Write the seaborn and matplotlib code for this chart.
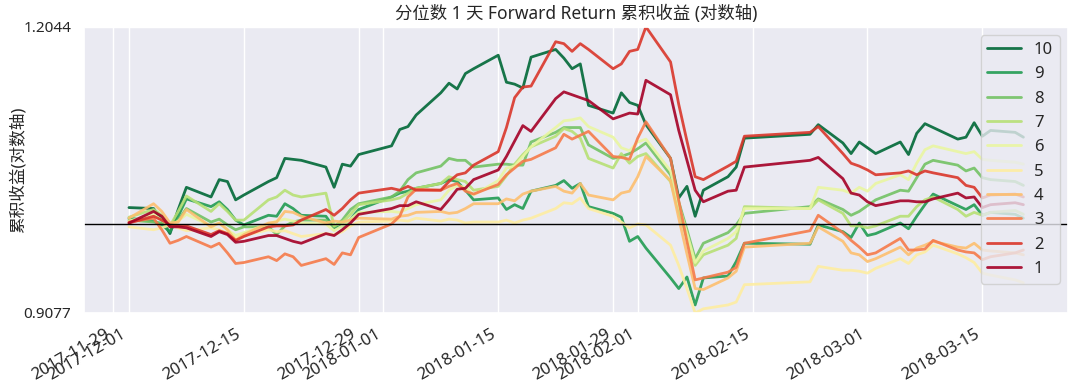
import numpy as np
import pandas as pd
import matplotlib
matplotlib.use("Agg")
import matplotlib.pyplot as plt
import matplotlib.dates as mdates
from matplotlib.ticker import FuncFormatter
import seaborn as sns

# ---------------- data ----------------
dates = [
    "2017-12-01", "2017-12-04", "2017-12-05", "2017-12-06", "2017-12-07", "2017-12-08",
    "2017-12-11", "2017-12-12", "2017-12-13", "2017-12-14", "2017-12-15",
    "2017-12-18", "2017-12-19", "2017-12-20", "2017-12-21", "2017-12-22",
    "2017-12-25", "2017-12-26", "2017-12-27", "2017-12-28", "2017-12-29",
    "2018-01-02", "2018-01-03", "2018-01-04", "2018-01-05",
    "2018-01-08", "2018-01-09", "2018-01-10", "2018-01-11", "2018-01-12",
    "2018-01-15", "2018-01-16", "2018-01-17", "2018-01-18", "2018-01-19",
    "2018-01-22", "2018-01-23", "2018-01-24", "2018-01-25", "2018-01-26",
    "2018-01-29", "2018-01-30", "2018-01-31", "2018-02-01", "2018-02-02",
    "2018-02-05", "2018-02-06", "2018-02-07", "2018-02-08", "2018-02-09",
    "2018-02-12", "2018-02-13", "2018-02-14", "2018-02-22", "2018-02-23",
    "2018-02-26", "2018-02-27", "2018-02-28", "2018-03-01", "2018-03-02",
    "2018-03-05", "2018-03-06", "2018-03-07", "2018-03-08", "2018-03-09",
    "2018-03-12", "2018-03-13", "2018-03-14", "2018-03-15", "2018-03-16",
    "2018-03-19", "2018-03-20",
]

q10 = [1.017, 1.016, 1.004, 0.990, 1.015, 1.038, 1.028, 1.046, 1.044, 1.025, 1.030,
       1.044, 1.048, 1.068, 1.067, 1.066, 1.059, 1.038, 1.062, 1.060, 1.072,
       1.081, 1.098, 1.101, 1.113, 1.136, 1.146, 1.140, 1.156, 1.161, 1.175,
       1.147, 1.145, 1.141, 1.173, 1.181, 1.172, 1.161, 1.166, 1.123, 1.115, 1.136, 1.126,
       1.123, 1.103, 1.068, 1.027, 1.039, 1.008, 1.035, 1.049, 1.059, 1.089,
       1.093, 1.103, 1.084, 1.073, 1.085,
       1.079, 1.073, 1.085, 1.072, 1.094, 1.104, 1.100, 1.088, 1.090, 1.105, 1.091,
       1.097, 1.095, 1.090]
q9 = [1.006, 1.003, 0.999, 0.992, 1.008, 1.026, 1.018, 1.023, 1.015, 1.004, 0.999,
      1.009, 1.008, 1.021, 1.016, 1.009, 1.008, 0.996, 0.998, 1.005, 1.015,
      1.028, 1.032, 1.034, 1.037, 1.042, 1.046, 1.044, 1.035, 1.025, 1.027,
      1.015, 1.020, 1.016, 1.034, 1.040, 1.045, 1.037, 1.042, 1.018, 1.011, 1.007, 0.982,
      0.987, 0.975, 0.944, 0.933, 0.945, 0.916, 0.944, 0.946, 0.961, 0.980,
      0.979, 0.999, 0.992, 0.986, 1.001,
      0.988, 0.990, 1.001, 0.995, 1.008, 1.020, 1.031, 1.019, 1.015, 1.020, 1.009,
      1.012, 1.010, 1.006]
q8 = [1.004, 1.002, 1.001, 0.997, 1.004, 1.016, 1.002, 1.005, 0.999, 0.994, 0.997,
      0.997, 0.989, 0.998, 1.002, 1.004, 1.004, 0.997, 1.004, 1.015, 1.021,
      1.028, 1.034, 1.046, 1.053, 1.060, 1.068, 1.066, 1.066, 1.059, 1.062,
      1.062, 1.061, 1.061, 1.085, 1.095, 1.100, 1.100, 1.100, 1.082, 1.068, 1.070, 1.073,
      1.078, 1.084, 1.051, 1.023, 0.994, 0.964, 0.980, 0.991, 0.999, 1.011,
      1.018, 1.026, 1.015, 1.009, 1.013,
      1.019, 1.025, 1.035, 1.034, 1.048, 1.062, 1.066, 1.061, 1.055, 1.058, 1.048,
      1.046, 1.044, 1.040]
q7 = [1.007, 1.015, 1.009, 0.998, 1.013, 1.029, 1.013, 1.021, 1.013, 1.004, 1.004,
      1.025, 1.028, 1.035, 1.030, 1.028, 1.032, 0.998, 1.002, 1.010, 1.020,
      1.025, 1.027, 1.032, 1.037, 1.042, 1.049, 1.046, 1.044, 1.035, 1.039,
      1.050, 1.062, 1.072, 1.080, 1.091, 1.099, 1.096, 1.089, 1.068, 1.058, 1.073, 1.063,
      1.070, 1.073, 1.044, 1.013, 0.985, 0.957, 0.968, 0.978, 0.985, 1.018,
      1.016, 1.025, 1.011, 0.998, 0.998,
      0.996, 0.998, 1.008, 1.008, 1.018, 1.025, 1.028, 1.015, 1.008, 1.012, 1.009,
      1.012, 1.014, 1.010]
q6 = [1.003, 1.010, 1.004, 0.997, 1.003, 1.010, 0.998, 1.001, 0.994, 0.988, 0.991,
      1.000, 1.003, 1.005, 1.003, 1.001, 1.000, 0.993, 0.998, 1.005, 1.012,
      1.013, 1.012, 1.016, 1.020, 1.025, 1.035, 1.040, 1.038, 1.030, 1.045,
      1.058, 1.060, 1.070, 1.080, 1.100, 1.107, 1.108, 1.110, 1.101, 1.090, 1.079, 1.076,
      1.085, 1.088, 1.055, 1.020, 0.990, 0.960, 0.972, 0.985, 0.992, 1.016,
      1.016, 1.038, 1.035, 1.032, 1.038,
      1.034, 1.042, 1.051, 1.046, 1.063, 1.077, 1.081, 1.075, 1.073, 1.075, 1.067,
      1.066, 1.064, 1.062]
q5 = [0.997, 0.994, 0.996, 0.999, 0.996, 0.993, 0.996, 0.994, 0.990, 0.985, 0.988,
      0.994, 0.992, 0.993, 0.990, 0.987, 0.990, 0.989, 0.992, 0.998, 1.002,
      1.003, 1.004, 1.003, 1.006, 1.003, 1.005, 1.004, 1.001, 1.002, 1.002,
      1.004, 1.001, 1.004, 1.006, 1.016, 1.022, 1.021, 1.027, 1.016, 1.008, 1.002, 0.996,
      1.000, 0.999, 0.978, 0.957, 0.933, 0.9077, 0.912, 0.916, 0.919, 0.937,
      0.940, 0.956, 0.952, 0.952, 0.951,
      0.949, 0.954, 0.964, 0.959, 0.968, 0.971, 0.978, 0.969, 0.965, 0.960, 0.949,
      0.947, 0.942, 0.939]
q4 = [1.006, 1.021, 1.013, 1.001, 1.002, 1.015, 0.997, 1.001, 0.994, 0.983, 0.989,
      1.001, 1.002, 1.013, 1.012, 1.008, 1.001, 1.003, 1.002, 1.004, 1.006,
      1.005, 1.008, 1.009, 1.012, 1.013, 1.011, 1.012, 1.016, 1.021, 1.021,
      1.026, 1.024, 1.031, 1.034, 1.039, 1.034, 1.032, 1.042, 1.030, 1.025, 1.032, 1.034,
      1.049, 1.070, 1.045, 1.006, 0.969, 0.933, 0.932, 0.944, 0.951, 0.976,
      0.980, 0.997, 0.982, 0.970, 0.968,
      0.961, 0.964, 0.976, 0.968, 0.975, 0.978, 0.982, 0.976, 0.975, 0.980, 0.973,
      0.972, 0.970, 0.968]
q3 = [1.002, 1.006, 0.994, 0.980, 0.983, 0.987, 0.976, 0.980, 0.970, 0.959, 0.960,
      0.966, 0.962, 0.969, 0.966, 0.957, 0.964, 0.958, 0.970, 0.968, 0.986,
      1.000, 1.008, 1.028, 1.036, 1.035, 1.039, 1.042, 1.034, 1.031, 1.041,
      1.051, 1.058, 1.065, 1.067, 1.079, 1.093, 1.088, 1.092, 1.096, 1.070, 1.069, 1.067,
      1.089, 1.106, 1.068, 1.024, 0.982, 0.942, 0.944, 0.950, 0.955, 0.980,
      0.993, 1.009, 0.991, 0.983, 0.976,
      0.968, 0.970, 0.985, 0.973, 0.973, 0.974, 0.983, 0.973, 0.971, 0.970, 0.963,
      0.966, 0.970, 0.973]
q2 = [1.001, 1.008, 1.004, 0.999, 0.998, 0.998, 0.989, 0.993, 0.990, 0.983, 0.987,
      0.997, 0.998, 0.998, 0.999, 1.004, 1.015, 1.009, 1.016, 1.025, 1.032,
      1.037, 1.035, 1.039, 1.035, 1.035, 1.044, 1.051, 1.053, 1.061, 1.075,
      1.100, 1.131, 1.142, 1.143, 1.189, 1.187, 1.179, 1.187, 1.181, 1.161, 1.166, 1.179,
      1.181, 1.2044, 1.168, 1.124, 1.086, 1.049, 1.046, 1.060, 1.065, 1.091,
      1.095, 1.101, 1.073, 1.063, 1.060,
      1.056, 1.051, 1.053, 1.055, 1.051, 1.055, 1.053, 1.048, 1.040, 1.038, 1.027,
      1.030, 1.031, 1.028]
q1 = [1.001, 1.013, 1.008, 0.997, 0.997, 0.996, 0.987, 0.992, 0.989, 0.981, 0.982,
      0.988, 0.988, 0.985, 0.982, 0.980, 0.990, 0.988, 0.994, 1.001, 1.010,
      1.016, 1.019, 1.019, 1.023, 1.015, 1.025, 1.036, 1.037, 1.046, 1.056,
      1.070, 1.086, 1.102, 1.096, 1.130, 1.137, 1.134, 1.131, 1.128, 1.109, 1.112, 1.115,
      1.114, 1.149, 1.134, 1.097, 1.066, 1.035, 1.023, 1.034, 1.035, 1.059,
      1.066, 1.069, 1.047, 1.032, 1.030,
      1.023, 1.019, 1.024, 1.024, 1.023, 1.023, 1.026, 1.032, 1.027, 1.028, 1.017,
      1.020, 1.022, 1.020]

quantile_labels = ["10", "9", "8", "7", "6", "5", "4", "3", "2", "1"]
tick_dates = ["2017-11-29", "2017-12-01", "2017-12-15", "2017-12-29", "2018-01-01",
              "2018-01-15", "2018-01-29", "2018-02-01", "2018-02-15", "2018-03-01",
              "2018-03-15"]
title_text = "分位数 1 天 Forward Return 累积收益 (对数轴)"
ylabel_text = "累积收益(对数轴)"

# ---------------- style ----------------
sns.set_theme(style="darkgrid")
plt.rcParams["font.family"] = ["Noto Sans", "Noto Sans CJK SC", "DejaVu Sans"]
plt.rcParams["axes.unicode_minus"] = False

wide = pd.DataFrame(
    {"10": q10, "9": q9, "8": q8, "7": q7, "6": q6,
     "5": q5, "4": q4, "3": q3, "2": q2, "1": q1},
    index=pd.to_datetime(dates),
)
wide.index.name = "date"
long = wide.reset_index().melt(id_vars="date", var_name="quantile", value_name="ret")

cmap_cols = plt.cm.RdYlGn(np.linspace(0, 1, 10))
palette = {str(i + 1): cmap_cols[i] for i in range(10)}

fig, ax = plt.subplots(figsize=(10.8, 3.84), dpi=100)
fig.subplots_adjust(left=0.078, right=0.989, top=0.930, bottom=0.185)

sns.lineplot(data=long, x="date", y="ret", hue="quantile",
             hue_order=quantile_labels, palette=palette,
             linewidth=2, alpha=0.9, ax=ax)

ymin, ymax = wide.min().min(), wide.max().max()
ax.set_ylim(ymin, ymax)
ax.set_yticks([ymin, ymax])
ax.yaxis.set_major_formatter(FuncFormatter(lambda v, p: f"{v:.4f}"))
ax.axhline(1.0, linestyle="-", color="black", lw=1)

ax.set_xticks(pd.to_datetime(tick_dates))
ax.xaxis.set_major_formatter(mdates.DateFormatter("%Y-%m-%d"))
plt.setp(ax.get_xticklabels(), rotation=30, ha="right", fontsize=12)
plt.setp(ax.get_yticklabels(), fontsize=11)

ax.set_xlabel("")
ax.set_ylabel(ylabel_text, fontsize=12)
ax.yaxis.set_label_coords(-0.058, 0.5)
ax.set_title(title_text, fontsize=12.5)

handles, labels = ax.get_legend_handles_labels()
ax.legend(handles, labels, loc="upper right", fontsize=12, frameon=True,
          framealpha=0.8)

fig.savefig("out.png", dpi=100)
